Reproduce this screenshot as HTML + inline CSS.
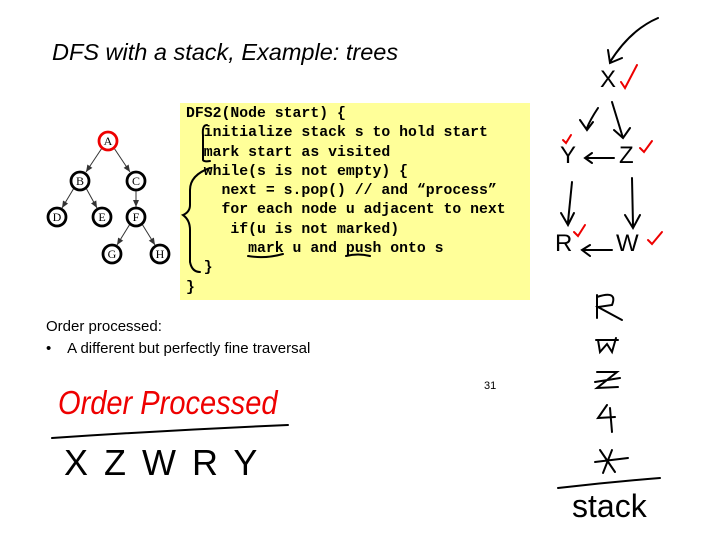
<!DOCTYPE html>
<html><head><style>
body{margin:0;width:720px;height:540px;background:#fff;position:relative;overflow:hidden;font-family:"Liberation Sans",sans-serif}
.t{position:absolute;white-space:pre}
</style></head><body>
<div class="t" style="left:52px;top:39px;font-size:23.5px;font-style:italic">DFS with a stack, Example: trees</div>
<div style="position:absolute;left:180px;top:103px;width:350px;height:197px;background:#ffff99"></div>
<div class="t" style="left:186px;top:105px;font-family:'Liberation Mono',monospace;font-weight:bold;font-size:14.8px;line-height:19.3px">DFS2(Node start) {
  initialize stack s to hold start
  mark start as visited
  while(s is not empty) {
    next = s.pop() // and “process”
    for each node u adjacent to next
     if(u is not marked)
       mark u and push onto s
  }
}</div>
<div class="t" style="left:46px;top:318px;font-size:15px">Order processed:</div>
<div class="t" style="left:46px;top:340px;font-size:15px">•    A different but perfectly fine traversal</div>
<div class="t" style="left:484px;top:380px;font-size:11px">31</div>
<div class="t" style="left:58px;top:384px;font-size:33px;color:#e00;font-style:italic;transform:scaleX(0.88);transform-origin:left">Order Processed</div>
<div class="t" style="left:64px;top:442px;font-size:36px;letter-spacing:3px">X Z W R Y</div>
<div class="t" style="left:572px;top:488px;font-size:32px">stack</div>
<svg width="720" height="540" style="position:absolute;left:0;top:0" fill="none">
<defs><marker id="a" markerWidth="8" markerHeight="8" refX="7" refY="4" orient="auto"><path d="M0,1 L7,4 L0,7 z" fill="#333"/></marker></defs>
<g stroke="#333" stroke-width="1" marker-end="url(#a)">
<line x1="102" y1="148" x2="86" y2="172"/><line x1="114" y1="148" x2="130" y2="172"/>
<line x1="74" y1="188" x2="62" y2="208"/><line x1="86" y1="188" x2="97" y2="208"/>
<line x1="136" y1="190" x2="136" y2="207"/><line x1="130" y1="224" x2="117" y2="245"/><line x1="142" y1="224" x2="155" y2="245"/>
</g>
<g stroke="#000" stroke-width="2.8" fill="#fff">
<circle cx="108" cy="141" r="9" stroke="#e00"/><circle cx="80" cy="181" r="9"/><circle cx="136" cy="181" r="9"/>
<circle cx="57" cy="217" r="9"/><circle cx="102" cy="217" r="9"/><circle cx="136" cy="217" r="9"/>
<circle cx="112" cy="254" r="9"/><circle cx="160" cy="254" r="9"/>
</g>
<g font-family="Liberation Serif" font-size="12" text-anchor="middle" fill="#000">
<text x="108" y="145">A</text><text x="80" y="185">B</text><text x="136" y="185">C</text><text x="57" y="221">D</text><text x="102" y="221">E</text><text x="136" y="221">F</text><text x="112" y="258">G</text><text x="160" y="258">H</text>
</g>
<g stroke="#000" stroke-width="2" stroke-linecap="round">
<path d="M207 125 Q202 125 203 135 L203 160 Q204 162 210 161"/>
<path d="M210 168 Q190 175 190 190 L190 205 Q190 212 183 215 Q190 220 190 230 L190 262 Q192 272 200 272"/>
<path d="M248 256 Q265 259 283 254"/><path d="M346 256 Q358 253 370 256"/>
<path d="M52 438 Q170 430 288 425"/>
<path d="M658 18 Q630 30 610 62 M608 50 L610 63 L622 58"/>
<path d="M598 108 Q590 120 587 128 M580 120 L587 130 L593 122"/>
<path d="M612 102 L623 138 M614 130 L623 138 L630 128"/>
<path d="M614 158 L585 158 M592 153 L585 158 L592 163"/>
<path d="M572 182 L568 222 M561 213 L568 225 L574 213"/>
<path d="M632 178 L633 225 M625 215 L633 228 L640 215"/>
<path d="M612 250 L582 250 M590 245 L582 250 L590 256"/>
<path d="M597 295 L597 318 M597 297 Q618 290 612 305 L598 307 L622 320"/>
<path d="M598 340 L600 352 L607 344 L612 352 L616 338 M596 340 L618 340"/>
<path d="M597 372 L617 372 L597 388 L618 387 M595 382 L620 378"/>
<path d="M607 405 L598 418 L615 417 M610 408 L612 432"/>
<path d="M600 450 L615 472 M612 450 L603 473 M595 462 L628 458"/>
<path d="M558 488 Q610 482 660 478"/>
</g>
<g stroke="#e00" stroke-width="2" stroke-linecap="round">
<path d="M621 82 L625 88 L637 65"/><path d="M563 140 L566 143 L571 135"/>
<path d="M640 148 L644 152 L652 141"/><path d="M574 232 L578 236 L585 225"/>
<path d="M648 240 L652 244 L662 232"/>
</g>
</svg>
<div class="t" style="left:600px;top:66px;font-size:24px">X</div>
<div class="t" style="left:560px;top:142px;font-size:24px">Y</div>
<div class="t" style="left:619px;top:142px;font-size:24px">Z</div>
<div class="t" style="left:555px;top:230px;font-size:24px">R</div>
<div class="t" style="left:616px;top:230px;font-size:24px">W</div>
</body></html>
